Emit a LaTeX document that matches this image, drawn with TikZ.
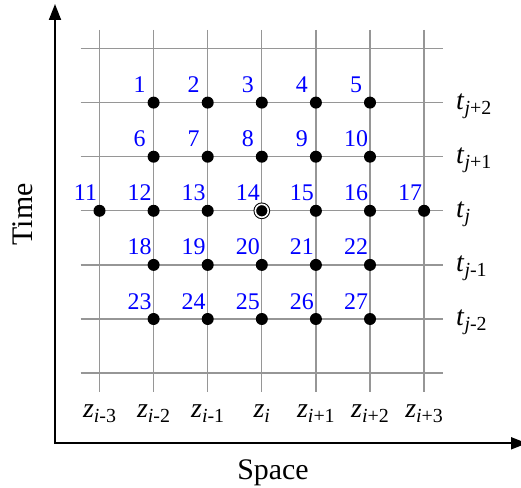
\documentclass[tikz,border=0pt]{standalone}
\usepackage{fontspec}
\setmainfont{Liberation Serif}
\usetikzlibrary{arrows.meta}
\definecolor{GridGray}{RGB}{150,150,150}
\definecolor{NumBlue}{RGB}{0,0,255}
\newcommand{\sublab}[3]{\textit{#1}\raisebox{-5bp}{\fontsize{20}{20}\selectfont\textit{#2}#3}}

\begin{document}
\begin{tikzpicture}[x=1bp, y=-1bp,
    gridln/.style={GridGray, line width=1.3bp},
    axis/.style={{Triangle[length=16bp,width=12bp]}-{Triangle[length=16bp,width=12bp]},
                 line width=1.8bp, black},
    dot/.style={circle, fill=black, inner sep=0pt, minimum size=12bp},
    ctr/.style={minimum size=13bp, draw=black, line width=1bp,
                double=white, double distance=1.6bp},
    num/.style={font=\fontsize{24}{24}\selectfont, text=NumBlue, anchor=base, inner sep=0pt},
    tick/.style={font=\fontsize{28}{28}\selectfont, inner sep=0pt},
    ttl/.style={font=\fontsize{30}{30}\selectfont, inner sep=0pt, anchor=base}
  ]
  \useasboundingbox (0,0) rectangle (521,488);
  % grid
  \foreach \k in {0,...,6} {
    \draw[gridln] (99.5+54.1*\k,30) -- (99.5+54.1*\k,392);
    \draw[gridln] (80.5,48.5+54.1*\k) -- (443,48.5+54.1*\k);
  }
  % axes
  \coordinate (orig) at (55,443.3);
  \coordinate (tend) at (55,4);
  \coordinate (send) at (527,443.3);
  \draw[axis] (tend) -- (orig) -- (send);
  \node[ttl, rotate=90] (time) at (32,214.5) {Time};
  \node[ttl] (space) at (273,479) {Space};
  % space and time steps
  \foreach \k/\s in {0/-3,1/-2,2/-1,3/{},4/+1,5/+2,6/+3}
    \node[tick, anchor=base] (z\k) at (99.5+54.1*\k,417) {\sublab{z}{i}{\s}};
  \foreach \r/\s in {1/+2,2/+1,3/{},4/-1,5/-2}
    \node[tick, anchor=base west] (t\r) at (456,55+54.1*\r) {\sublab{t}{j}{\s}};
  % stencil points
  \foreach \r/\first in {1/1,2/6,4/18,5/23}
    \foreach \c in {1,...,5} {
      \pgfmathtruncatemacro{\n}{\first+\c-1}
      \node[dot] (p\n) at (99.5+54.1*\c,48.5+54.1*\r) {};
    }
  \foreach \c in {0,1,2,4,5,6} {
    \pgfmathtruncatemacro{\n}{11+\c}
    \node[dot] (p\n) at (99.5+54.1*\c,210.8) {};
  }
  \node[dot, ctr] (p14) at (261.8,210.8) {};
  \foreach \n in {1,...,27}
    \node[num] (n\n) at ([shift={(-14,-10)}]p\n) {\n};
\end{tikzpicture}
\end{document}
